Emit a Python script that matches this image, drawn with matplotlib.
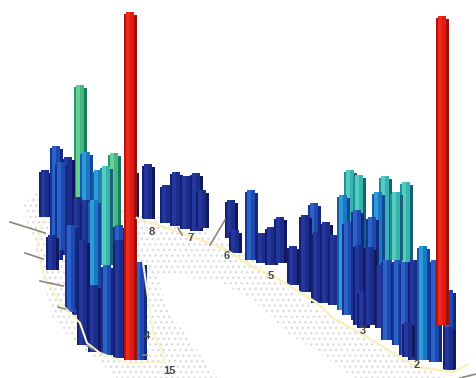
import matplotlib
matplotlib.use('Agg')
import matplotlib.pyplot as plt

# no axis in the picture, everything is read off in image pixels
# horseshoe floor
floor_x = [22, 40, 140, 176, 214, 250, 300, 380, 445, 355, 320, 287, 253, 220, 160, 160, 173, 197, 217, 117, 100, 77, 52, 43, 33]
floor_y = [205, 190, 212, 222, 235, 258, 298, 345, 378, 378, 353, 333, 300, 282, 273, 287, 317, 350, 378, 378, 362, 345, 317, 277, 240]

edge_x = [42, 37, 43, 60, 80, 87, 100, 127, 165, 163, 153, 143]
edge_y = [222, 247, 273, 303, 323, 343, 353, 363, 362, 353, 333, 262]
edge2_x = [137, 187, 223, 253, 280, 317, 333, 367, 393, 417, 453, 467]
edge2_y = [218, 235, 248, 267, 280, 303, 318, 337, 353, 367, 372, 365]

# bars, back to front
left_x = [132, 45, 80, 86, 56, 114, 98, 106, 68, 61, 52, 78, 73, 86, 94, 119, 71, 83, 94, 107, 119, 140, 130]
left_top = [170, 170, 85, 152, 146, 153, 170, 166, 157, 162, 235, 197, 225, 200, 200, 225, 225, 240, 285, 265, 240, 262, 12]
left_base = [218, 217, 205, 205, 260, 232, 260, 265, 255, 250, 270, 315, 312, 325, 290, 290, 310, 345, 352, 355, 358, 360, 360]
left_kind = ['navy', 'navy', 'green', 'sky', 'blue', 'green', 'sky', 'teal', 'navy', 'blue', 'navy', 'navy', 'blue', 'navy', 'sky', 'blue', 'blue', 'navy', 'navy', 'blue', 'navy', 'blue', 'red']

mid_x = [148, 166, 176, 186, 196, 202, 231, 235, 251, 262, 271, 280]
mid_top = [164, 185, 172, 176, 173, 190, 200, 230, 190, 233, 227, 217]
mid_base = [219, 223, 226, 229, 231, 228, 238, 253, 260, 263, 265, 263]
mid_kind = ['navy', 'navy', 'navy', 'navy', 'navy', 'navy', 'navy', 'navy', 'blue', 'navy', 'navy', 'navy']

right_x = [293, 314, 305, 317, 326, 334, 350, 359, 343, 385, 378, 406, 396, 372, 348, 357, 359, 363, 370, 381, 387, 398, 405, 414, 408, 423, 435, 449, 442, 449]
right_top = [246, 203, 215, 232, 222, 235, 170, 175, 195, 176, 192, 182, 192, 217, 222, 210, 245, 292, 247, 265, 260, 260, 262, 260, 322, 246, 260, 290, 16, 327]
right_base = [285, 290, 292, 303, 303, 305, 250, 250, 310, 270, 275, 280, 260, 300, 315, 320, 325, 328, 325, 328, 340, 345, 355, 360, 357, 360, 362, 370, 325, 370]
right_kind = ['navy', 'blue', 'navy', 'navy', 'navy', 'navy', 'teal', 'teal', 'sky', 'teal', 'sky', 'teal', 'teal', 'blue', 'blue', 'blue', 'navy', 'navy', 'navy', 'navy', 'blue', 'blue', 'blue', 'navy', 'navy', 'sky', 'blue', 'blue', 'red', 'navy']

# gray tick lines
tick_x0 = [10, 25, 40, 58, 87, 210, 178, 143, 460]
tick_y0 = [222, 253, 281, 307, 346, 245, 228, 355, 378]
tick_x1 = [45, 43, 63, 65, 93, 225, 182, 147, 476]
tick_y1 = [233, 259, 286, 309, 349, 220, 235, 355, 374]

labels = ['8', '7', '6', '5', '3', '2', '4', '15']
label_x = [152, 191, 227, 271, 363, 417, 147, 169]
label_y = [232, 238, 256, 276, 331, 365, 336, 371]

# shades per bar kind: left edge, light stripe, main, right edge
shades = {
    'navy': ['#141f78', '#24389c', '#1c2c8a', '#10185e'],
    'blue': ['#15339a', '#2a63c4', '#1f49ae', '#122a80'],
    'sky': ['#145fa8', '#2f9ada', '#1d78c4', '#12489a'],
    'teal': ['#1f8f9a', '#55ccc0', '#38b4ac', '#16607a'],
    'green': ['#279a6c', '#66cf96', '#44b884', '#1d7a5c'],
    'red': ['#b81210', '#ee2a1c', '#e21c14', '#a00e0c'],
}
# stripe offset, stripe width, how much lower the stripe top is
stripes = [(-6.5, 2.5, 2), (-4, 4, 0), (0, 3.5, 0), (3.5, 3, 3)]

plt.rcParams['hatch.color'] = '#dcdcdc'

fig = plt.figure(figsize=(4.76, 3.78), dpi=100)
ax = fig.add_axes([0, 0, 1, 1])
ax.set_xlim(0, 476)
ax.set_ylim(378, 0)
ax.axis('off')

ax.fill(floor_x, floor_y, facecolor='white', edgecolor='#dcdcdc', linewidth=0, hatch='...')
ax.plot(edge_x, edge_y, color='#faf4cc', linewidth=1.5)
ax.plot(edge2_x, edge2_y, color='#f8f0c0', linewidth=1.8)

for i in range(len(tick_x0)):
    ax.plot([tick_x0[i], tick_x1[i]], [tick_y0[i], tick_y1[i]], color='#8c8880', linewidth=1.2)
for i in range(len(labels)):
    ax.text(label_x[i], label_y[i], labels[i], fontsize=8, fontweight='bold', color='#4a4a4a',
            family='Liberation Sans', ha='center', va='center')


def draw_bars(xs, tops, bases, kinds):
    for x, top, base, kind in zip(xs, tops, bases, kinds):
        for (off, w, drop), col in zip(stripes, shades[kind]):
            ax.bar(x + off, base - top - drop, width=w, bottom=top + drop, align='edge',
                   color=col, linewidth=0)


draw_bars(mid_x, mid_top, mid_base, mid_kind)
draw_bars(left_x, left_top, left_base, left_kind)
draw_bars(right_x, right_top, right_base, right_kind)

fig.savefig('out.png', dpi=100)
